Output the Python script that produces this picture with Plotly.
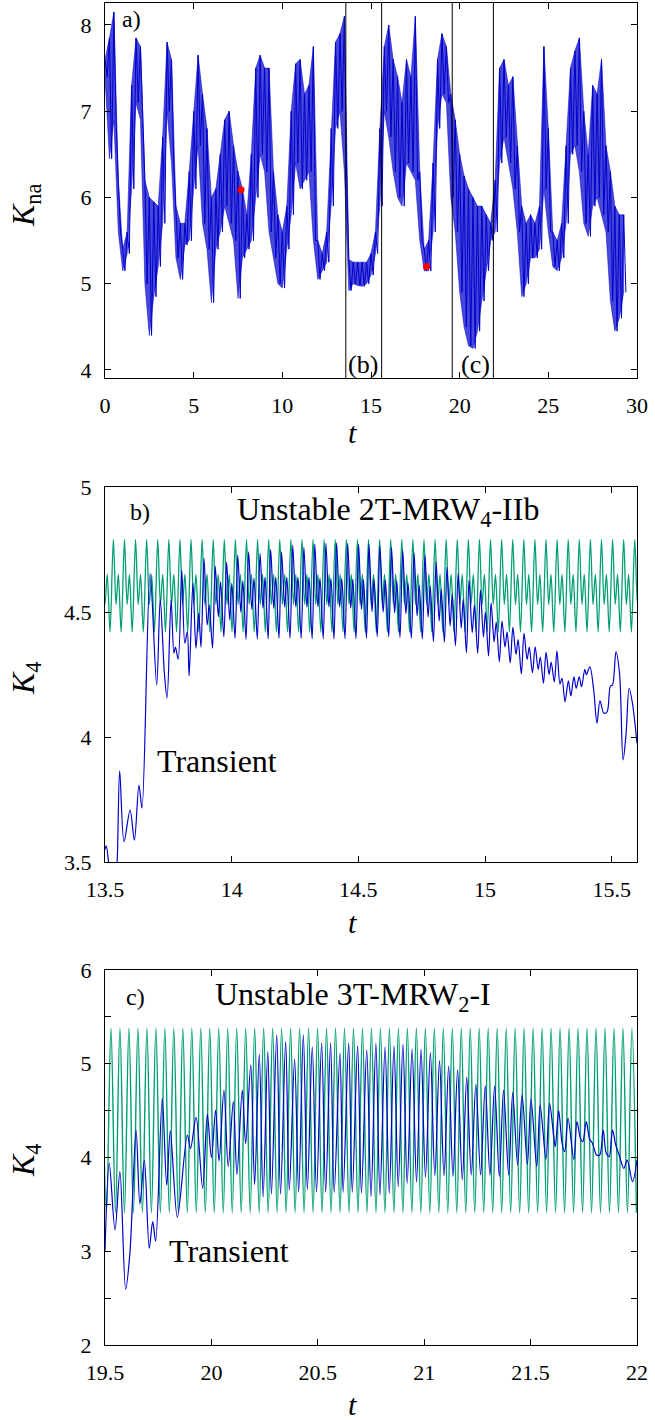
import plotly.graph_objects as go

SERIF = "'Liberation Serif', 'DejaVu Serif', serif"
BLUE = "#0000cc"
GREEN = "#009e73"
W, H = 655, 1420

# ---------------- Panel a: K_na(t) envelope samples (every 0.25 in t) ----------------
a_t0 = 0.0
a_dt = 0.25
a_upper = [7.60, 7.85, 8.15, 6.20, 5.40, 5.60, 7.30, 7.85, 7.75, 6.20,
           6.00, 5.95, 5.90, 6.70, 7.80, 7.60, 5.90, 5.70, 5.70, 6.30,
           7.00, 7.65, 7.20, 6.80, 6.00, 6.10, 6.50, 6.90, 7.00, 6.60,
           6.30, 6.10, 5.80, 6.50, 7.50, 7.65, 7.50, 7.50, 6.30, 5.80,
           5.60, 5.90, 7.00, 7.55, 7.60, 7.20, 7.30, 7.75, 5.50, 5.35,
           5.60, 6.80, 7.80, 7.90, 8.10, 5.28, 5.25, 5.25, 5.25, 5.25,
           5.35, 5.60, 6.80, 7.75, 8.00, 7.60, 7.40, 7.10, 7.60, 7.40,
           8.10, 6.30, 5.40, 5.50, 6.40, 7.60, 7.90, 7.75, 7.20, 6.90,
           6.50, 6.25, 6.10, 6.00, 5.90, 5.90, 5.80, 5.70, 6.20, 7.50,
           7.60, 7.30, 7.40, 6.60, 5.90, 5.70, 5.80, 5.70, 5.90, 7.75,
           6.80, 5.60, 5.50, 5.70, 6.60, 7.50, 7.70, 7.85, 7.00, 6.50,
           7.30, 7.20, 7.60, 6.60, 6.30, 5.90, 5.80, 5.80]
a_lower = [7.40, 6.45, 6.90, 5.60, 5.15, 5.35, 6.10, 7.10, 6.90, 5.00,
           4.40, 4.85, 5.20, 5.70, 7.00, 6.40, 5.30, 5.05, 5.45, 5.50,
           6.10, 6.60, 5.70, 5.40, 4.78, 5.40, 5.60, 5.90, 5.70, 5.50,
           4.83, 5.30, 5.40, 5.50, 6.00, 6.50, 6.30, 5.60, 5.30, 5.00,
           4.95, 5.40, 5.80, 6.40, 6.10, 6.20, 6.30, 5.50, 5.05, 5.15,
           5.25, 5.90, 6.80, 7.00, 6.30, 4.92, 5.00, 4.98, 4.97, 5.00,
           5.10, 5.35, 5.90, 7.00, 6.70, 6.30, 6.00, 5.90, 6.40, 6.30,
           6.20, 5.50, 5.15, 5.15, 5.60, 6.80, 7.20, 7.10, 6.00, 5.60,
           4.90, 4.50, 4.28, 4.25, 4.45, 4.80, 5.15, 5.50, 5.60, 6.40,
           6.70, 6.40, 6.10, 5.60, 4.85, 5.00, 5.30, 5.30, 5.40, 6.10,
           5.60, 5.20, 5.15, 5.30, 5.70, 6.50, 6.60, 6.30, 5.70, 5.55,
           5.90, 6.00, 5.80, 5.60, 4.80, 4.45, 4.60, 4.90]
a_red_t = [7.67, 18.13]
a_red_v = [6.09, 5.20]
a_window_t = [13.58, 15.60, 19.58, 21.90]

# ---------------- Panel b ----------------
b_trans_t = [13.500, 13.505, 13.514, 13.535, 13.548, 13.558, 13.575, 13.599, 13.616,
             13.634, 13.646, 13.678, 13.704, 13.718, 13.734, 13.745, 13.761, 13.772,
             13.778, 13.789, 13.803, 13.815, 13.825, 13.832, 13.847, 13.859, 13.870,
             13.879]
b_trans_v = [3.55, 3.565, 3.50, 3.30, 3.50, 3.865, 3.581, 3.708, 3.587,
             3.808, 3.715, 4.655, 4.208, 4.551, 4.261, 4.155, 4.549, 4.335,
             4.360, 4.311, 4.668, 4.375, 4.421, 4.244, 4.615, 4.355, 4.495,
             4.359]
b_cyc_t = [13.891, 13.935, 13.980, 14.024, 14.067, 14.112, 14.154, 14.197, 14.241,
           14.285, 14.328, 14.372, 14.414, 14.458, 14.501, 14.542, 14.585, 14.631,
           14.675, 14.720, 14.763, 14.807, 14.850, 14.894, 14.937, 14.982, 15.024,
           15.067, 15.110, 15.154, 15.198, 15.241]
b_cyc_peak = [4.715, 4.684, 4.700, 4.728, 4.741, 4.735, 4.751, 4.741, 4.768,
              4.759, 4.772, 4.775, 4.777, 4.775, 4.772, 4.772, 4.764, 4.759,
              4.748, 4.737, 4.728, 4.701, 4.679, 4.655, 4.628, 4.588, 4.537,
              4.464, 4.439, 4.415, 4.361, 4.339]
b_cyc_tr1 = [4.448, 4.481, 4.468, 4.500, 4.510, 4.515, 4.515, 4.520, 4.520,
             4.520, 4.520, 4.520, 4.520, 4.515, 4.510, 4.501, 4.499, 4.497,
             4.493, 4.484, 4.480, 4.464, 4.444, 4.435, 4.417, 4.400, 4.380,
             4.360, 4.330, 4.310, 4.270, 4.250]
b_cyc_pk2 = [4.528, 4.621, 4.615, 4.625, 4.635, 4.640, 4.640, 4.640, 4.640,
             4.640, 4.635, 4.635, 4.635, 4.632, 4.630, 4.631, 4.628, 4.625,
             4.617, 4.608, 4.604, 4.591, 4.572, 4.551, 4.528, 4.500, 4.460,
             4.420, 4.390, 4.360, 4.320, 4.300]
b_cyc_tr2 = [4.355, 4.401, 4.395, 4.390, 4.392, 4.392, 4.395, 4.395, 4.395,
             4.393, 4.393, 4.392, 4.393, 4.393, 4.395, 4.401, 4.401, 4.398,
             4.395, 4.392, 4.381, 4.379, 4.365, 4.337, 4.335, 4.324, 4.301,
             4.297, 4.252, 4.257, 4.215, 4.220]
b_cyc_phase = [0.0, 0.28, 0.47, 0.76]
b_tail_t = [15.284, 15.296, 15.304, 15.316, 15.329, 15.339, 15.351, 15.360, 15.372,
            15.381, 15.394, 15.400, 15.414, 15.429, 15.442, 15.454, 15.469, 15.482,
            15.495, 15.503, 15.517, 15.531, 15.545, 15.557, 15.569, 15.582, 15.600]
b_tail_v = [4.345, 4.212, 4.235, 4.141, 4.225, 4.164, 4.241, 4.195, 4.241,
            4.201, 4.271, 4.249, 4.281, 4.188, 4.055, 4.145, 4.095, 4.101,
            4.204, 4.207, 4.341, 4.255, 3.908, 4.015, 4.195, 4.135, 3.975]
# periodic orbit: one cycle
b_green_cycle = [4.79, 4.53, 4.65, 4.42]
b_green_phase = [0.0, 0.24, 0.45, 0.70]
b_green_t0 = 13.533
b_green_period = 0.04379
b_green_ncycles = 48

# ---------------- Panel c ----------------
c_blue_t = [19.500, 19.520, 19.547, 19.570, 19.597, 19.617, 19.646, 19.664, 19.685,
            19.708, 19.724, 19.738, 19.769, 19.790, 19.807, 19.840, 19.887, 19.902,
            19.928, 19.959, 19.981, 20.000, 20.020, 20.036, 20.059, 20.079, 20.103,
            20.120, 20.145, 20.161, 20.185, 20.203, 20.225, 20.243, 20.265, 20.282,
            20.307, 20.325, 20.349, 20.366, 20.391, 20.410, 20.432, 20.451, 20.474,
            20.494, 20.518, 20.537, 20.560, 20.577, 20.604, 20.619, 20.645, 20.662,
            20.687, 20.705, 20.730, 20.750, 20.773, 20.792, 20.816, 20.836, 20.858,
            20.878, 20.900, 20.920, 20.943, 20.964, 20.985, 21.006, 21.029, 21.050,
            21.072, 21.093, 21.115, 21.135, 21.157, 21.179, 21.200, 21.221, 21.243,
            21.265, 21.287, 21.309, 21.331, 21.353, 21.373, 21.397, 21.416, 21.439,
            21.460, 21.485, 21.502, 21.529, 21.545, 21.572, 21.589, 21.608, 21.616,
            21.632, 21.648, 21.660, 21.676, 21.703, 21.718, 21.734, 21.745, 21.762,
            21.777, 21.791, 21.810, 21.825, 21.841, 21.855, 21.869, 21.885, 21.900,
            21.916, 21.938, 21.954, 21.979, 22.000]
c_blue_v = [3.00, 3.938, 3.227, 3.849, 2.594, 2.980, 4.293, 3.504, 3.973,
            3.031, 3.316, 3.107, 4.631, 3.707, 4.283, 3.362, 4.240, 4.097,
            4.429, 3.671, 4.461, 4.000, 4.506, 3.962, 4.720, 3.903, 4.595,
            3.818, 4.720, 4.149, 4.987, 3.710, 5.104, 3.580, 5.129, 3.610,
            5.307, 3.610, 5.235, 3.650, 5.047, 3.630, 5.307, 3.660, 5.180,
            3.630, 5.220, 3.630, 5.220, 3.630, 5.110, 3.630, 5.220, 3.630,
            5.190, 3.620, 5.147, 3.582, 5.218, 3.600, 5.180, 3.618, 5.190,
            3.689, 5.207, 3.725, 5.157, 3.736, 5.154, 3.789, 5.118, 3.804,
            5.033, 3.804, 4.976, 3.797, 4.934, 3.762, 4.855, 3.814, 4.784,
            3.814, 4.763, 3.814, 4.763, 3.797, 4.720, 3.814, 4.691, 3.920,
            4.667, 3.927, 4.624, 3.902, 4.560, 3.980, 4.578, 4.240, 4.115,
            4.500, 4.150, 4.062, 4.418, 3.980, 4.382, 4.204, 4.169, 4.382,
            4.198, 4.150, 4.027, 4.027, 4.293, 4.050, 4.008, 4.293, 4.133,
            4.027, 3.884, 3.973, 3.742, 3.973]
c_green_peak = 5.38
c_green_trough = 3.41
c_green_t0 = 19.528
c_green_period = 0.04221
c_green_ncycles = 59

# ---------------- build traces ----------------
fig = go.Figure()

# panel a: band between read upper/lower excursions, with spiky zigzag on top
a_t = [a_t0 + i * a_dt for i in range(len(a_upper))]
fig.add_trace(go.Scatter(x=a_t + a_t[::-1], y=a_upper + a_lower[::-1], mode="lines",
                         fill="toself", fillcolor="rgba(0,0,204,0.72)",
                         line=dict(color=BLUE, width=0.5),
                         xaxis="x", yaxis="y", showlegend=False, hoverinfo="skip"))
za_t, za_v = [], []
for i in range(len(a_upper)):
    za_t += [a_t[i], a_t[i] + a_dt / 2]
    za_v += [a_upper[i], a_lower[i]]
fig.add_trace(go.Scatter(x=za_t, y=za_v, mode="lines", line=dict(color=BLUE, width=1),
                         xaxis="x", yaxis="y", showlegend=False, hoverinfo="skip"))
fig.add_trace(go.Scatter(x=a_red_t, y=a_red_v, mode="markers",
                         marker=dict(color="#ff0000", size=7),
                         xaxis="x", yaxis="y", showlegend=False))

# panel b green periodic orbit
gb_t, gb_v = [], []
for k in range(-1, b_green_ncycles):
    base = b_green_t0 + k * b_green_period
    for ph, v in zip(b_green_phase, b_green_cycle):
        gb_t.append(base + ph * b_green_period)
        gb_v.append(v)
fig.add_trace(go.Scatter(x=gb_t, y=gb_v, mode="lines",
                         line=dict(color=GREEN, width=1.3, shape="spline", smoothing=0.9),
                         xaxis="x2", yaxis="y2", showlegend=False))

# panel b blue
bb_t = list(b_trans_t)
bb_v = list(b_trans_v)
for i in range(len(b_cyc_t)):
    t_next = b_cyc_t[i + 1] if i + 1 < len(b_cyc_t) else b_tail_t[0]
    per = t_next - b_cyc_t[i]
    vals = [b_cyc_peak[i], b_cyc_tr1[i], b_cyc_pk2[i], b_cyc_tr2[i]]
    for ph, v in zip(b_cyc_phase, vals):
        bb_t.append(b_cyc_t[i] + ph * per)
        bb_v.append(v)
bb_t += b_tail_t
bb_v += b_tail_v
fig.add_trace(go.Scatter(x=bb_t, y=bb_v, mode="lines",
                         line=dict(color=BLUE, width=1.2, shape="spline", smoothing=0.9),
                         xaxis="x2", yaxis="y2", showlegend=False))

# panel c green
gc_t, gc_v = [], []
for k in range(-1, c_green_ncycles):
    base = c_green_t0 + k * c_green_period
    gc_t += [base, base + c_green_period / 2]
    gc_v += [c_green_peak, c_green_trough]
fig.add_trace(go.Scatter(x=gc_t, y=gc_v, mode="lines",
                         line=dict(color=GREEN, width=1.4, shape="spline", smoothing=1.0),
                         xaxis="x3", yaxis="y3", showlegend=False))
fig.add_trace(go.Scatter(x=c_blue_t, y=c_blue_v, mode="lines",
                         line=dict(color=BLUE, width=1.2, shape="spline", smoothing=0.9),
                         xaxis="x3", yaxis="y3", showlegend=False))

# ---------------- layout ----------------
def px_x(p):
    return p / W

def px_y(p):
    return 1 - p / H

xdom = [px_x(105), px_x(637)]
tickfont = dict(family=SERIF, size=22, color="black")
common = dict(showline=True, linecolor="black", linewidth=1, mirror="ticks", ticks="inside",
              ticklen=6, tickcolor="black", tickwidth=1, showgrid=False, zeroline=False,
              tickfont=tickfont, ticklabelstandoff=8, automargin=False)

fig.update_layout(
    width=W, height=H, margin=dict(l=0, r=0, t=0, b=0, autoexpand=False),
    paper_bgcolor="white", plot_bgcolor="white", showlegend=False,
    font=dict(family=SERIF, color="black"),
    xaxis=dict(domain=xdom, anchor="y", range=[0, 30], tickvals=[0, 5, 10, 15, 20, 25, 30], **common),
    yaxis=dict(domain=[px_y(378), px_y(3)], anchor="x", range=[3.907, 8.255], tickvals=[4, 5, 6, 7, 8], **common),
    xaxis2=dict(domain=xdom, anchor="y2", range=[13.5, 15.6], tickvals=[13.5, 14, 14.5, 15, 15.5], **common),
    yaxis2=dict(domain=[px_y(862), px_y(487)], anchor="x2", range=[3.5, 5], tickvals=[3.5, 4, 4.5, 5], **common),
    xaxis3=dict(domain=xdom, anchor="y3", range=[19.5, 22], tickvals=[19.5, 20, 20.5, 21, 21.5, 22], **common),
    yaxis3=dict(domain=[px_y(1345), px_y(970)], anchor="x3", range=[2, 6],
                tickvals=[2, 2.5, 3, 3.5, 4, 4.5, 5, 5.5, 6],
                ticktext=["2", "", "3", "", "4", "", "5", "", "6"], **common),
)

for xv in a_window_t:
    fig.add_shape(type="line", xref="x", yref="y domain", x0=xv, x1=xv, y0=0, y1=1,
                  line=dict(color="black", width=1))

def ann(text, x, y, size, angle=0):
    fig.add_annotation(text=text, x=px_x(x), y=px_y(y), xref="paper", yref="paper",
                       showarrow=False, xanchor="center", yanchor="middle", textangle=angle,
                       font=dict(family=SERIF, size=size, color="black"))

ann("a)", 131, 19, 24)
ann("(b)", 363, 364, 26)
ann("(c)", 476, 364, 26)
ann("b)", 140, 512, 24)
ann("Unstable 2T-MRW<sub>4</sub>-IIb", 388, 512, 32)
ann("Transient", 217, 761, 32)
ann("c)", 135, 997, 24)
ann("Unstable 3T-MRW<sub>2</sub>-I", 353, 997, 32)
ann("Transient", 229, 1251, 32)
ann("<i>t</i>", 352, 433, 30)
ann("<i>t</i>", 352, 922, 30)
ann("<i>t</i>", 352, 1404, 30)
ann("<i>K</i><sub>na</sub>", 25, 205, 32, -90)
ann("<i>K</i><sub>4</sub>", 25, 678, 32, -90)
ann("<i>K</i><sub>4</sub>", 25, 1160, 32, -90)

fig.write_html("out.html", config={"displayModeBar": False},
               post_script="document.body.style.margin='0';document.body.style.overflow='hidden';")
